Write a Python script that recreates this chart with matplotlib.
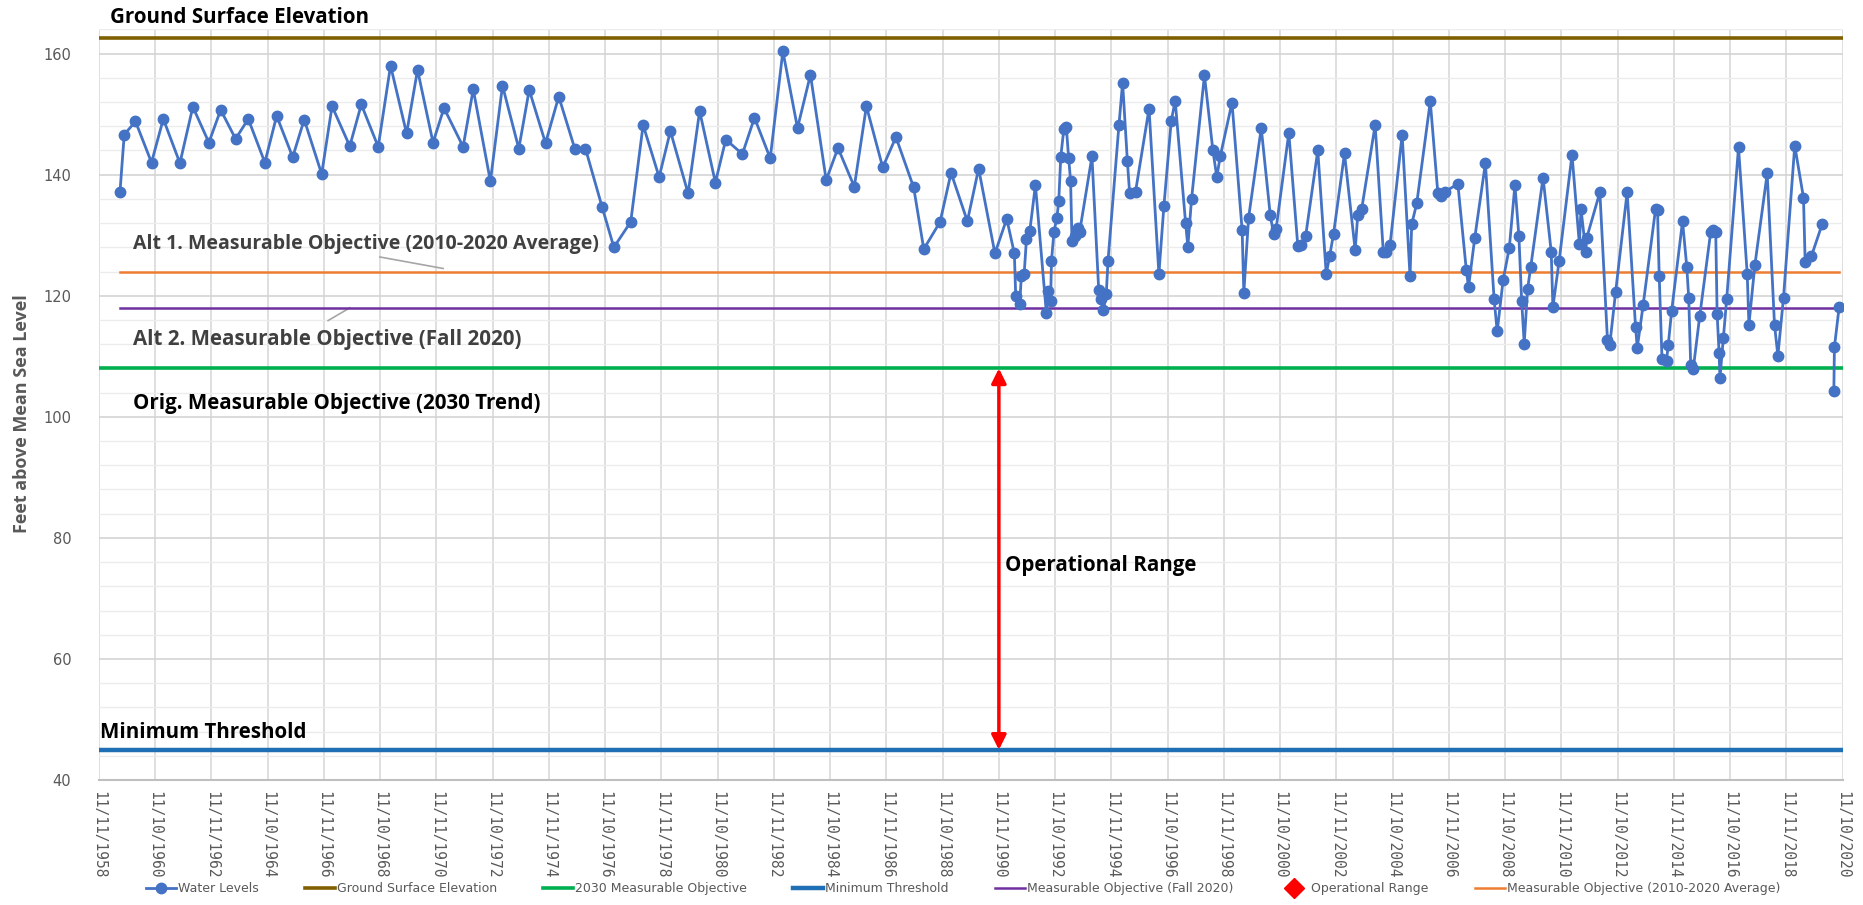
import datetime as dt

import matplotlib.pyplot as plt
import numpy as np
from matplotlib.lines import Line2D

# Dados (ano decimal, nível em pés)
years = [
    1959.61, 1959.76, 1960.16, 1960.73, 1961.15, 1961.74, 1962.20, 1962.77, 1963.19, 1963.72,
    1964.17, 1964.76, 1965.18, 1965.75, 1966.16, 1966.78, 1967.15, 1967.78, 1968.19, 1968.79,
    1969.23, 1969.80, 1970.19, 1970.74, 1971.13, 1971.81, 1972.17, 1972.78, 1973.21, 1973.79,
    1974.16, 1974.74, 1975.21, 1975.78, 1976.16, 1976.75, 1977.17, 1977.77, 1978.21, 1978.78,
    1979.18, 1979.81, 1980.22, 1980.78, 1981.15, 1981.74, 1982.17, 1982.73, 1983.18, 1983.70,
    1984.16, 1984.72, 1985.14, 1985.72, 1986.15, 1986.73, 1987.20, 1987.83, 1988.19, 1988.77,
    1989.16, 1989.74, 1990.14, 1990.72, 1991.14, 1991.41, 1991.46, 1991.60, 1991.66, 1991.76,
    1991.84, 1991.96, 1992.16, 1992.55, 1992.61, 1992.70, 1992.73, 1992.82, 1992.92, 1992.99,
    1993.06, 1993.17, 1993.26, 1993.34, 1993.41, 1993.46, 1993.58, 1993.67, 1993.73, 1994.17,
    1994.41, 1994.50, 1994.58, 1994.68, 1994.74, 1995.13, 1995.26, 1995.43, 1995.51, 1995.72,
    1996.20, 1996.55, 1996.73, 1996.99, 1997.13, 1997.50, 1997.58, 1997.71, 1998.17, 1998.47,
    1998.61, 1998.73, 1999.15, 1999.51, 1999.57, 1999.74, 2000.19, 2000.51, 2000.63, 2000.72,
    2001.17, 2001.49, 2001.61, 2001.77, 2002.20, 2002.50, 2002.62, 2002.76, 2003.15, 2003.53,
    2003.62, 2003.76, 2004.24, 2004.53, 2004.63, 2004.77, 2005.20, 2005.48, 2005.54, 2005.72,
    2006.20, 2006.47, 2006.59, 2006.74, 2007.18, 2007.48, 2007.56, 2007.78, 2008.16, 2008.47,
    2008.58, 2008.79, 2009.01, 2009.21, 2009.35, 2009.45, 2009.54, 2009.66, 2009.77, 2010.21,
    2010.50, 2010.56, 2010.78, 2011.24, 2011.50, 2011.56, 2011.73, 2011.76, 2012.23, 2012.50,
    2012.58, 2012.79, 2013.20, 2013.50, 2013.56, 2013.77, 2014.21, 2014.28, 2014.34, 2014.44,
    2014.60, 2014.66, 2014.78, 2015.17, 2015.32, 2015.39, 2015.46, 2015.55, 2015.78, 2016.17,
    2016.25, 2016.35, 2016.40, 2016.47, 2016.50, 2016.62, 2016.74, 2017.16, 2017.47, 2017.53,
    2017.74, 2018.18, 2018.44, 2018.56, 2018.76, 2019.16, 2019.47, 2019.53, 2019.75, 2020.14,
    2020.35, 2020.55, 2020.57, 2020.74,
]
levels = [
    137.2, 146.6, 148.8, 142.0, 149.2, 141.9, 151.2, 145.3, 150.7, 145.9,
    149.2, 142.0, 149.7, 142.9, 149.1, 140.1, 151.3, 144.7, 151.6, 144.6,
    158.0, 146.8, 157.3, 145.3, 151.0, 144.6, 154.1, 138.9, 154.7, 144.3,
    154.0, 145.2, 152.9, 144.3, 144.3, 134.7, 128.0, 132.2, 148.2, 139.6,
    147.2, 136.9, 150.5, 138.7, 145.8, 143.4, 149.4, 142.7, 160.4, 147.7,
    156.5, 139.1, 144.4, 138.0, 151.3, 141.2, 146.2, 137.9, 127.7, 132.2,
    140.3, 132.3, 141.0, 127.0, 132.7, 127.0, 119.9, 118.6, 123.3, 123.6,
    129.3, 130.7, 138.3, 117.1, 120.7, 119.2, 125.7, 130.6, 132.8, 135.6,
    142.9, 147.5, 147.8, 142.8, 139.0, 129.0, 129.8, 131.2, 130.5, 143.0,
    121.0, 119.4, 117.7, 120.3, 125.7, 148.2, 155.2, 142.2, 136.9, 137.2,
    150.9, 123.6, 134.9, 148.9, 152.2, 132.0, 128.1, 135.9, 156.4, 144.0,
    139.6, 143.0, 151.9, 130.8, 120.5, 132.9, 147.7, 133.3, 130.2, 131.1,
    146.9, 128.2, 128.4, 129.9, 144.0, 123.6, 126.5, 130.2, 143.5, 127.5,
    133.3, 134.3, 148.2, 127.2, 127.3, 128.4, 146.6, 123.2, 131.8, 135.3,
    152.1, 136.9, 136.4, 137.2, 138.5, 124.3, 121.4, 129.5, 141.9, 119.4,
    114.1, 122.6, 127.9, 138.3, 129.9, 119.1, 112.1, 121.1, 124.7, 139.5,
    127.3, 118.1, 125.7, 143.3, 128.6, 134.3, 127.3, 129.5, 137.1, 112.7,
    111.8, 120.6, 137.1, 114.8, 111.4, 118.5, 134.3, 134.2, 123.3, 109.5,
    109.3, 111.8, 117.4, 132.3, 124.8, 119.6, 108.6, 107.9, 116.6, 130.5,
    130.9, 130.5, 117.0, 110.5, 106.4, 113.0, 119.5, 144.5, 123.6, 115.2,
    125.0, 140.2, 115.2, 110.1, 119.7, 144.8, 136.2, 125.5, 126.5, 131.9,
    np.nan, 104.2, 111.5, 118.2,
]

# Níveis de referência (pés)
ground_surface = 162.6
objective_avg = 124.0      # Alt 1 (2010-2020 Average)
objective_fall = 118.0     # Alt 2 (Fall 2020)
objective_2030 = 108.0
min_threshold = 45.0

tick_labels = [
    "11/11/1958", "11/10/1960", "11/11/1962", "11/10/1964", "11/11/1966", "11/10/1968",
    "11/11/1970", "11/10/1972", "11/11/1974", "11/10/1976", "11/11/1978", "11/10/1980",
    "11/11/1982", "11/10/1984", "11/11/1986", "11/10/1988", "11/11/1990", "11/10/1992",
    "11/11/1994", "11/10/1996", "11/11/1998", "11/10/2000", "11/11/2002", "11/10/2004",
    "11/11/2006", "11/10/2008", "11/11/2010", "11/10/2012", "11/11/2014", "11/10/2016",
    "11/11/2018", "11/10/2020",
]
range_date = "11/11/1990"


def dec_year(s):
    d = dt.datetime.strptime(s, "%m/%d/%Y")
    start = dt.datetime(d.year, 1, 1)
    n = (dt.datetime(d.year + 1, 1, 1) - start).days
    return d.year + (d - start).days / n


ticks = [dec_year(s) for s in tick_labels]
x_range = dec_year(range_date)

# Cores
c_water = "#4472C4"
c_ground = "#7F6000"
c_green = "#00B050"
c_min = "#1F6FB5"
c_purple = "#7030A0"
c_orange = "#ED7D31"
gray = "#595959"

fig = plt.figure(figsize=(18.63, 9.05), dpi=100)
ax = fig.add_axes([0.0531, 0.138, 0.9359, 0.8296])

xmin, xmax = ticks[0], ticks[-1]
ax.set_xlim(xmin, xmax)
ax.set_ylim(40, 164)

# Grade
ax.set_yticks(np.arange(40, 161, 20))
ax.set_yticks(np.arange(44, 165, 4), minor=True)
ax.set_xticks(ticks)
ax.grid(which="major", axis="y", color="#d4d4d4", lw=1.2)
ax.grid(which="minor", axis="y", color="#ececec", lw=1.0)
ax.grid(which="major", axis="x", color="#d9d9d9", lw=1.2)
ax.set_axisbelow(True)
for side in ["top", "right", "left"]:
    ax.spines[side].set_visible(False)
ax.spines["bottom"].set_color("#bfbfbf")
ax.spines["bottom"].set_linewidth(1.5)
ax.tick_params(which="both", length=0)
ax.tick_params(axis="y", labelsize=10.5, labelcolor=gray, pad=20)
ax.set_xticklabels(tick_labels, rotation=-90, fontsize=10.5, color=gray,
                   family="DejaVu Sans Mono", va="top", ha="center")
ax.tick_params(axis="x", pad=8)

# Linhas de referência
l_ground, = ax.plot([xmin, xmax], [ground_surface] * 2, color=c_ground, lw=2.6,
                    label="Ground Surface Elevation", zorder=3)
l_green, = ax.plot([xmin, xmax], [objective_2030] * 2, color=c_green, lw=2.6,
                   label="2030 Measurable Objective", zorder=3)
l_min, = ax.plot([xmin, xmax], [min_threshold] * 2, color=c_min, lw=3.2,
                 label="Minimum Threshold", zorder=3)
l_purple, = ax.plot([years[0], years[-1]], [objective_fall] * 2, color=c_purple, lw=1.8,
                    label="Measurable Objective (Fall 2020)", zorder=3)
l_orange, = ax.plot([years[0], years[-1]], [objective_avg] * 2, color=c_orange, lw=1.8,
                    label="Measurable Objective (2010-2020 Average)", zorder=3)

# Níveis de água
l_water, = ax.plot(years, levels, color=c_water, lw=2.0, marker="o", ms=7.5,
                   label="Water Levels", zorder=4)

# Faixa operacional
ax.annotate("", xy=(x_range, min_threshold), xytext=(x_range, objective_2030),
            arrowprops=dict(arrowstyle="<|-|>", color="red", lw=2.5,
                            mutation_scale=22, shrinkA=0, shrinkB=0), zorder=5)
l_range = Line2D([], [], color="red", marker="D", ls="none", ms=10,
                 label="Operational Range")

# Textos
txt = dict(family="Open Sans", fontweight="bold", fontsize=14.8, va="center", ha="left")
ax.text(1959.25, 165.9, "Ground Surface Elevation", color="black", clip_on=False, **txt)
ax.text(1960.07, 112.8, "Alt 2. Measurable Objective (Fall 2020)", color="#404040", **txt)
ax.text(1960.07, 102.2, "Orig. Measurable Objective (2030 Trend)", color="black", **txt)
ax.text(1958.90, 47.8, "Minimum Threshold", color="black", **txt)
ax.text(1991.07, 75.5, "Operational Range", color="black", **txt)
txt["fontsize"] = 14.0
ax.text(1960.07, 128.5, "Alt 1. Measurable Objective (2010-2020 Average)", color="#404040", **txt)
ax.plot([1968.85, 1971.1], [126.4, 124.5], color="#a6a6a6", lw=1.2, zorder=2)
ax.plot([1967.01, 1967.78], [115.9, 118.0], color="#a6a6a6", lw=1.2, zorder=2)

fig.text(0.0118, 0.543, "Feet above Mean Sea Level", rotation=90, va="center", ha="center",
         color=gray, fontsize=13, fontweight="bold", family="Open Sans")

# Legenda
handles = [l_water, l_ground, l_green, l_min, l_purple, l_range, l_orange]
fig.legend(handles=handles, loc="center", bbox_to_anchor=(0.517, 0.018), ncol=7,
           frameon=False, handlelength=2.4, columnspacing=3.7, handletextpad=0.15,
           prop=dict(family="DejaVu Sans", size=9), labelcolor=gray)

fig.savefig("out.png", dpi=100)
